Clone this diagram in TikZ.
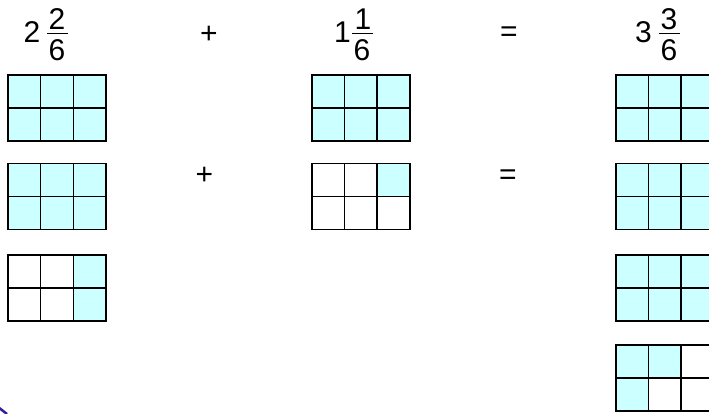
\documentclass[tikz,border=0pt]{standalone}
\usepackage{fontspec}
\setmainfont{Liberation Sans}
\definecolor{cellfill}{HTML}{CCFFFF}
\definecolor{navblue}{HTML}{3020A0}
\newcommand{\fracgrid}[3]{%
  \foreach \c/\r in {#3} {\fill[cellfill] ({#1+\c*32.67},{#2+\r*33}) rectangle ++(32.67,33);}
  \draw[gridline] (#1,#2) rectangle ++(98,66);
  \draw[gridline] ({#1+32.67},#2) -- ++(0,66);
  \draw[gridline] ({#1+65.33},#2) -- ++(0,66);
  \draw[gridline] (#1,{#2+33}) -- ++(98,0);
}
\begin{document}
\begin{tikzpicture}[x=1pt,y=-1pt,
  gridline/.style={draw=black, line width=1.6pt},
  num/.style={font=\fontsize{30}{30}\selectfont, inner sep=0pt},
  fracbar/.style={line width=1.4pt}]
\useasboundingbox (0,0) rectangle (709,413);
\clip (0,0) rectangle (709,413);

% top labels
\node[num] (w1) at (32,32.5) {2};
\node[num] (n1) at (57,19) {2};
\node[num] (d1) at (57,50.5) {6};
\draw[fracbar] (47,33.5) -- (68,33.5);

\node[num] (plus1) at (209,34.5) {+};

\node[num] (w2) at (342.5,32.5) {1};
\node[num] (n2) at (363,19) {1};
\node[num] (d2) at (362,50.5) {6};
\draw[fracbar] (352,33.5) -- (373,33.5);

\node[num] (eq1) at (509,34.5) {=};

\node[num] (w3) at (643.5,32.5) {3};
\node[num] (n3) at (669,19) {3};
\node[num] (d3) at (669,50.5) {6};
\draw[fracbar] (659,33.5) -- (680,33.5);

% second-row signs
\node[num] (plus2) at (204.5,175.5) {+};
\node[num] (eq2) at (508,177) {=};

% left column
\fracgrid{8}{75}{0/0,1/0,2/0,0/1,1/1,2/1}
\fracgrid{8}{163.3}{0/0,1/0,2/0,0/1,1/1,2/1}
\fracgrid{8}{255}{2/0,2/1}

% middle column
\fracgrid{311.7}{75}{0/0,1/0,2/0,0/1,1/1,2/1}
\fracgrid{311.7}{163.3}{2/0}

% right column
\fracgrid{615.7}{75}{0/0,1/0,2/0,0/1,1/1,2/1}
\fracgrid{615.7}{163.3}{0/0,1/0,2/0,0/1,1/1,2/1}
\fracgrid{615.7}{255}{0/0,1/0,2/0,0/1,1/1,2/1}
\fracgrid{615.7}{345}{0/0,1/0,0/1}

% corner artifact
\draw[navblue, line width=2.5pt] (-2,407) -- (7,414);
\end{tikzpicture}
\end{document}
